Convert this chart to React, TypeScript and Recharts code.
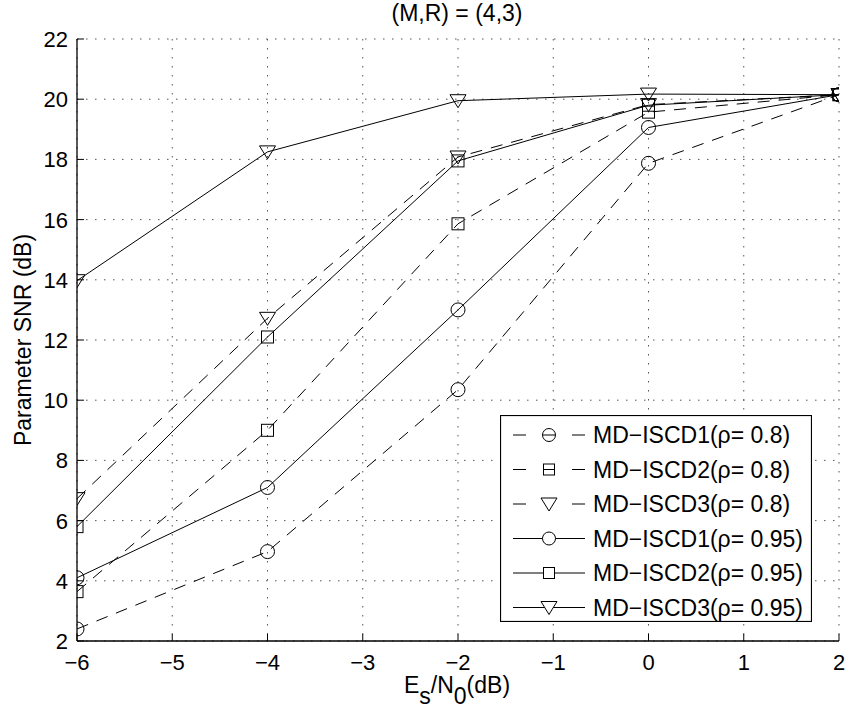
import React from 'react';
import { LineChart, Line, XAxis, YAxis, CartesianGrid, Legend } from 'recharts';

// ---- data ----
const esN0 = [-6, -4, -2, 0, 2];
const iscd1_08 = [2.4, 4.97, 10.35, 17.87, 20.15];
const iscd2_08 = [3.64, 9.0, 15.86, 19.57, 20.15];
const iscd3_08 = [6.73, 12.72, 18.08, 19.82, 20.15];
const iscd1_095 = [4.1, 7.1, 13.0, 19.06, 20.15];
const iscd2_095 = [5.8, 12.1, 17.95, 19.8, 20.15];
const iscd3_095 = [13.97, 18.25, 19.95, 20.17, 20.15];

const seriesNames = [
  'MD\u2212ISCD1(\u03C1= 0.8)',
  'MD\u2212ISCD2(\u03C1= 0.8)',
  'MD\u2212ISCD3(\u03C1= 0.8)',
  'MD\u2212ISCD1(\u03C1= 0.95)',
  'MD\u2212ISCD2(\u03C1= 0.95)',
  'MD\u2212ISCD3(\u03C1= 0.95)',
];
const seriesValues = [iscd1_08, iscd2_08, iscd3_08, iscd1_095, iscd2_095, iscd3_095];
const seriesShapes = ['circle', 'square', 'triangle', 'circle', 'square', 'triangle'];
const seriesDashed = [true, true, true, false, false, false];

const xTicks = [-6, -5, -4, -3, -2, -1, 0, 1, 2];
const yTicks = [2, 4, 6, 8, 10, 12, 14, 16, 18, 20, 22];

const titleText = '(M,R) = (4,3)';
const yLabelText = 'Parameter SNR (dB)';

const data = esN0.map((x, i) => {
  const row: any = { x };
  seriesValues.forEach((vals, k) => {
    row['s' + k] = vals[i];
  });
  return row;
});

// ---- styling ----
const FONT = '"Liberation Sans", Arial, Helvetica, sans-serif';
const DASH = '12 9';
const TICK_LEN = 7;

const fmt = (v: number) => (v < 0 ? `\u2212${-v}` : `${v}`);

function Marker({ cx, cy, shape }: { cx?: number; cy?: number; shape: string }) {
  if (cx == null || cy == null || isNaN(cx) || isNaN(cy)) return null;
  if (shape === 'circle') {
    return <circle cx={cx} cy={cy} r={7} fill="none" stroke="#000" strokeWidth={1} />;
  }
  if (shape === 'square') {
    return <rect x={cx - 6} y={cy - 6} width={12} height={12} fill="none" stroke="#000" strokeWidth={1} />;
  }
  return (
    <polygon
      points={`${cx - 8},${cy - 6} ${cx + 8},${cy - 6} ${cx},${cy + 7}`}
      fill="none"
      stroke="#000"
      strokeWidth={1}
    />
  );
}

const XBottomTick = (props: any) => {
  const { x, y, payload } = props;
  return (
    <g>
      <line x1={x} x2={x} y1={y} y2={y - TICK_LEN} stroke="#000" strokeWidth={1} />
      <text x={x} y={y + 29} textAnchor="middle" fontSize={22} fontFamily={FONT} fill="#000">
        {fmt(payload.value)}
      </text>
    </g>
  );
};

const XTopTick = (props: any) => {
  const { x, y } = props;
  return <line x1={x} x2={x} y1={y} y2={y + TICK_LEN} stroke="#000" strokeWidth={1} />;
};

const YLeftTick = (props: any) => {
  const { x, y, payload } = props;
  return (
    <g>
      <line x1={x} x2={x + TICK_LEN} y1={y} y2={y} stroke="#000" strokeWidth={1} />
      <text x={x - 9} y={y + 8} textAnchor="end" fontSize={22} fontFamily={FONT} fill="#000">
        {fmt(payload.value)}
      </text>
    </g>
  );
};

const YRightTick = (props: any) => {
  const { x, y } = props;
  return <line x1={x} x2={x - TICK_LEN} y1={y} y2={y} stroke="#000" strokeWidth={1} />;
};

const LegendBox = () => {
  const W = 312;
  const H = 207;
  return (
    <svg width={W} height={H} style={{ display: 'block' }}>
      <rect x={0.5} y={0.5} width={W - 1} height={H - 1} fill="#fff" stroke="#000" strokeWidth={1.2} />
      {seriesNames.map((name, i) => {
        const cy = 20 + i * 34.5;
        const mx = 49;
        const shape = seriesShapes[i];
        return (
          <g key={name}>
            {seriesDashed[i] ? (
              <g>
                <line x1={13} x2={26} y1={cy} y2={cy} stroke="#000" strokeWidth={1} />
                <line x1={72} x2={85} y1={cy} y2={cy} stroke="#000" strokeWidth={1} />
                {shape !== 'triangle' && (
                  <line x1={mx - 6} x2={mx + 6} y1={cy} y2={cy} stroke="#000" strokeWidth={1} />
                )}
              </g>
            ) : (
              <line x1={13} x2={85} y1={cy} y2={cy} stroke="#000" strokeWidth={1} />
            )}
            {shape === 'circle' ? (
              <circle cx={mx} cy={cy} r={6.5} fill={seriesDashed[i] ? 'none' : '#fff'} stroke="#000" />
            ) : shape === 'square' ? (
              <rect x={mx - 5.5} y={cy - 5.5} width={11} height={11} fill={seriesDashed[i] ? 'none' : '#fff'} stroke="#000" />
            ) : (
              <polygon
                points={`${mx - 8},${cy - 6} ${mx + 8},${cy - 6} ${mx},${cy + 7}`}
                fill="#fff"
                stroke="#000"
              />
            )}
            <text x={93} y={cy + 8} fontSize={23} fontFamily={FONT} fill="#000">
              {name}
            </text>
          </g>
        );
      })}
    </svg>
  );
};

const AxisTitles = () => (
  <g>
    <text x={457} y={21} textAnchor="middle" fontSize={23} fontFamily={FONT} fill="#000">
      {titleText}
    </text>
    <text x={457} y={693} textAnchor="middle" fontSize={23} fontFamily={FONT} fill="#000">
      <tspan>E</tspan>
      <tspan dy={11}>s</tspan>
      <tspan dy={-11}>/N</tspan>
      <tspan dy={11}>0</tspan>
      <tspan dy={-11}>(dB)</tspan>
    </text>
  </g>
);

export default function App() {
  return (
    <div style={{ position: 'absolute', left: 0, top: 0, width: 847, height: 711, background: '#fff' }}>
      <LineChart
        width={847}
        height={711}
        data={data}
        margin={{ top: 39, right: 8, bottom: 40, left: 0 }}
        style={{ background: '#fff' }}
      >
        <CartesianGrid
          stroke="#555"
          strokeDasharray="1.5 7.5"
          strokeWidth={1}
          horizontalValues={yTicks}
          verticalValues={xTicks}
        />
        <XAxis
          dataKey="x"
          type="number"
          domain={[-6, 2]}
          ticks={xTicks}
          interval={0}
          height={30}
          tickSize={0}
          tickMargin={0}
          tickLine={false}
          axisLine={{ stroke: '#000', strokeWidth: 1.3 }}
          tick={<XBottomTick />}
          allowDataOverflow
          label={{ content: () => <AxisTitles /> }}
        />
        <XAxis
          xAxisId="top"
          dataKey="x"
          type="number"
          orientation="top"
          domain={[-6, 2]}
          ticks={xTicks}
          interval={0}
          height={0}
          tickSize={0}
          tickMargin={0}
          tickLine={false}
          axisLine={{ stroke: '#000', strokeWidth: 1.3 }}
          tick={<XTopTick />}
          allowDataOverflow
        />
        <YAxis
          type="number"
          domain={[2, 22]}
          ticks={yTicks}
          interval={0}
          width={77}
          tickSize={0}
          tickMargin={0}
          tickLine={false}
          axisLine={{ stroke: '#000', strokeWidth: 1.3 }}
          tick={<YLeftTick />}
          allowDataOverflow
          label={{
            content: () => (
              <text
                transform="translate(31,340) rotate(-90)"
                textAnchor="middle"
                fontSize={23}
                fontFamily={FONT}
                fill="#000"
              >
                {yLabelText}
              </text>
            ),
          }}
        />
        <YAxis
          yAxisId="right"
          type="number"
          orientation="right"
          domain={[2, 22]}
          ticks={yTicks}
          interval={0}
          width={0}
          tickSize={0}
          tickMargin={0}
          tickLine={false}
          axisLine={{ stroke: '#000', strokeWidth: 1.3 }}
          tick={<YRightTick />}
          allowDataOverflow
        />
        {seriesNames.map((name, k) => (
          <Line
            key={name}
            name={name}
            dataKey={'s' + k}
            type="linear"
            stroke="#000"
            strokeWidth={1}
            strokeDasharray={seriesDashed[k] ? DASH : undefined}
            isAnimationActive={false}
            activeDot={false}
            dot={(p: any) => (
              <Marker key={`m-${k}-${p.index}`} cx={p.cx} cy={p.cy} shape={seriesShapes[k]} />
            )}
          />
        ))}
        <Legend
          layout="vertical"
          align="center"
          verticalAlign="middle"
          content={() => <LegendBox />}
          wrapperStyle={{ position: 'absolute', left: 500, top: 415, width: 312, height: 207 }}
        />
      </LineChart>
    </div>
  );
}
